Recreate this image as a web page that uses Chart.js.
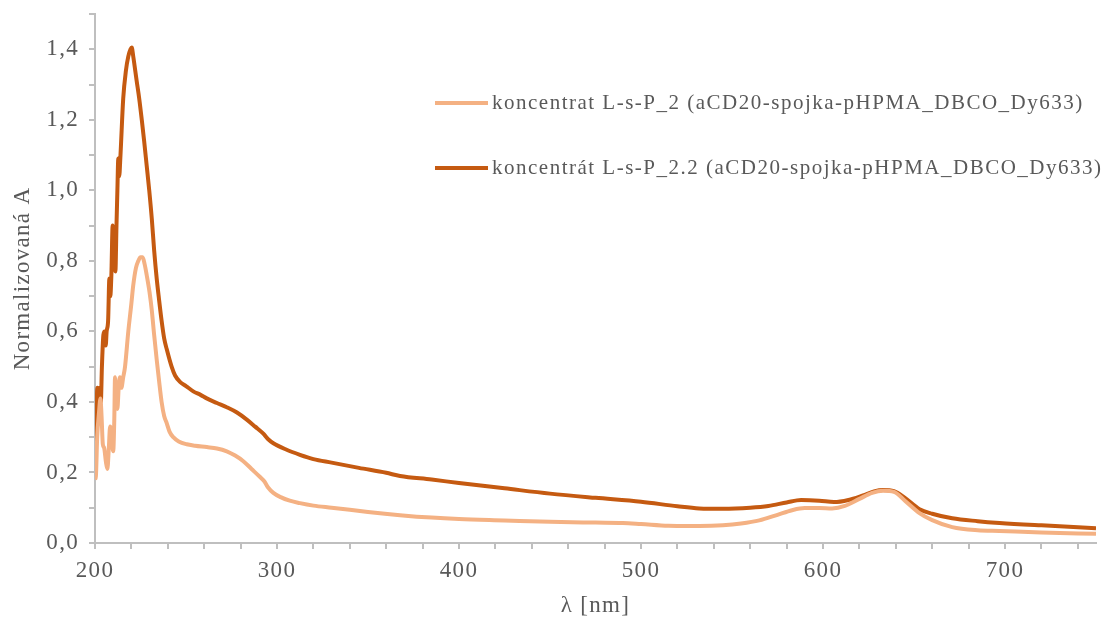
<!DOCTYPE html>
<html>
<head>
<meta charset="utf-8">
<script src="https://cdn.jsdelivr.net/npm/chart.js@4.4.1/dist/chart.umd.min.js"></script>
<style>
  body { margin: 0; background: #fff; }
  #wrap { width: 1104px; height: 620px; }
</style>
</head>
<body>
<div id="wrap"><canvas id="spectra"></canvas></div>
<script>
const seriesNames = [
  'koncentrat L-s-P_2 (aCD20-spojka-pHPMA_DBCO_Dy633)',
  'koncentrát L-s-P_2.2 (aCD20-spojka-pHPMA_DBCO_Dy633)'
];

// series 1 (light)
const lightNm = [200, 200.5, 201.2, 202.2, 203, 203.6, 204.3, 205, 206, 206.8, 207.6, 208.3, 209, 210, 210.6, 211, 211.6, 212.3, 213, 213.7, 214.5, 215.5, 216.5, 218.3, 220, 221, 222.5, 223.8, 225, 226.2, 227.3, 228.4, 230, 231.2, 232.5, 233.9, 235.2, 236.6, 238, 239.4, 241, 243, 246, 250.4, 255, 261.4, 267, 272.4, 277, 281.5, 286, 290.7, 293, 295, 298, 302, 307, 312.6, 320, 330, 340, 350, 367.6, 385, 400, 425, 450, 475, 490, 500, 515, 525, 532, 545, 555, 565, 575, 583, 590, 598, 605, 612, 620, 627, 633, 639, 645, 653, 660, 671, 685, 697, 720, 750];
const lightA = [0.18, 0.19, 0.30, 0.37, 0.41, 0.36, 0.28, 0.27, 0.23, 0.21, 0.27, 0.33, 0.31, 0.26, 0.35, 0.47, 0.40, 0.38, 0.44, 0.47, 0.44, 0.47, 0.50, 0.60, 0.68, 0.73, 0.78, 0.80, 0.81, 0.81, 0.79, 0.76, 0.71, 0.66, 0.59, 0.52, 0.46, 0.40, 0.36, 0.34, 0.315, 0.30, 0.288, 0.28, 0.276, 0.272, 0.268, 0.26, 0.248, 0.232, 0.21, 0.187, 0.175, 0.158, 0.142, 0.13, 0.12, 0.113, 0.106, 0.10, 0.094, 0.088, 0.079, 0.072, 0.068, 0.064, 0.06, 0.058, 0.057, 0.054, 0.049, 0.048, 0.048, 0.05, 0.055, 0.064, 0.08, 0.093, 0.099, 0.099, 0.098, 0.105, 0.125, 0.142, 0.148, 0.145, 0.12, 0.085, 0.065, 0.045, 0.036, 0.034, 0.03, 0.026];

// series 2 (dark)
const darkNm = [200, 200.6, 201.3, 201.9, 202.4, 202.7, 203.2, 203.8, 204.6, 205.3, 205.9, 206.4, 207.2, 207.9, 208.4, 209, 209.7, 210.1, 210.6, 211.2, 211.8, 212.3, 212.8, 213.3, 214, 215.5, 217, 218.3, 219.5, 220.2, 221, 222.9, 224.3, 225.7, 227, 228.4, 229.8, 231.2, 232.5, 233.9, 235.2, 236.6, 238, 239.4, 242.1, 244, 246.7, 250, 254, 258, 261.4, 267, 272.4, 278, 283.4, 288, 292.5, 295, 298, 305, 312.6, 320, 330, 345, 360, 367.6, 385, 400, 425, 450, 475, 500, 520, 532, 545, 560, 570, 580, 588, 598, 606, 614, 622, 628, 633, 639, 645, 653, 660, 671, 685, 697, 720, 750];
const darkA = [0.23, 0.32, 0.44, 0.43, 0.37, 0.44, 0.40, 0.50, 0.59, 0.60, 0.56, 0.60, 0.63, 0.75, 0.70, 0.76, 0.90, 0.78, 0.88, 0.77, 0.90, 1.00, 1.09, 1.04, 1.10, 1.26, 1.34, 1.38, 1.40, 1.405, 1.38, 1.31, 1.26, 1.20, 1.14, 1.07, 1.00, 0.92, 0.83, 0.75, 0.69, 0.63, 0.58, 0.55, 0.50, 0.475, 0.457, 0.445, 0.43, 0.42, 0.41, 0.397, 0.385, 0.37, 0.35, 0.33, 0.31, 0.295, 0.283, 0.265, 0.25, 0.238, 0.228, 0.213, 0.199, 0.19, 0.18, 0.17, 0.155, 0.14, 0.128, 0.117, 0.104, 0.098, 0.097, 0.10, 0.105, 0.115, 0.122, 0.12, 0.116, 0.122, 0.135, 0.146, 0.15, 0.147, 0.128, 0.096, 0.083, 0.07, 0.062, 0.057, 0.05, 0.042];

const xTicks = [200, 220, 240, 260, 280, 300, 320, 340, 360, 380, 400, 420, 440, 460, 480, 500, 520, 540, 560, 580, 600, 620, 640, 660, 680, 700, 720, 740];
const yTicks = [0, 0.1, 0.2, 0.3, 0.4, 0.5, 0.6, 0.7, 0.8, 0.9, 1.0, 1.1, 1.2, 1.3, 1.4, 1.5];

const colLight = '#F4B183';
const colDark = '#C55A11';
const txt = '#595959';
const axisGray = '#BFBFBF';
const fam = "'Liberation Serif', 'Times New Roman', serif";

const pts = (xs, ys) => xs.map((x, i) => ({ x: x, y: ys[i] }));

// Excel-like wide text (canvas resize resets the context, so set it before drawing)
const spacing = {
  id: 'spacing',
  beforeDraw(chart) { chart.ctx.letterSpacing = '1.3px'; }
};

// legend sits inside the plot, drawn by hand
const insideLegend = {
  id: 'insideLegend',
  afterDraw(chart) {
    const c = chart.ctx;
    const rows = [103, 168];
    c.save();
    c.font = '21px ' + fam;
    c.letterSpacing = '1.5px';
    c.fillStyle = txt;
    c.textBaseline = 'middle';
    chart.data.datasets.forEach((ds, i) => {
      c.strokeStyle = ds.borderColor;
      c.lineWidth = 4;
      c.beginPath();
      c.moveTo(435, rows[i]);
      c.lineTo(488, rows[i]);
      c.stroke();
      c.fillText(ds.label, 492, rows[i]);
    });
    c.restore();
  }
};

new Chart(document.getElementById('spectra'), {
  type: 'line',
  data: {
    datasets: [
      { label: seriesNames[0], data: pts(lightNm, lightA), borderColor: colLight, borderWidth: 4, pointRadius: 0, cubicInterpolationMode: 'monotone' },
      { label: seriesNames[1], data: pts(darkNm, darkA), borderColor: colDark, borderWidth: 4, pointRadius: 0, cubicInterpolationMode: 'monotone' }
    ]
  },
  options: {
    responsive: true,
    maintainAspectRatio: false,
    animation: false,
    layout: { padding: { top: 14, right: 8, left: 0, bottom: 0 } },
    plugins: { legend: { display: false }, tooltip: { enabled: false } },
    scales: {
      x: {
        type: 'linear',
        min: 200,
        max: 750,
        afterFit: s => { s.height = 77; s.paddingLeft = 0; s.paddingRight = 0; },
        afterBuildTicks: s => { s.ticks = xTicks.map(v => ({ value: v })); },
        ticks: {
          autoSkip: false,
          maxRotation: 0,
          padding: 8,
          color: txt,
          font: { family: fam, size: 23 },
          callback: v => (v % 100 === 0 ? v : '')
        },
        grid: { drawOnChartArea: false, tickLength: 6, color: axisGray, lineWidth: 2 },
        border: { color: axisGray, width: 2 },
        title: { display: true, text: 'λ [nm]', color: txt, font: { family: fam, size: 23 }, padding: { top: 0, bottom: 0 } }
      },
      y: {
        min: 0,
        max: 1.5,
        afterFit: s => { s.width = 95; s.paddingTop = 0; s.paddingBottom = 0; },
        afterBuildTicks: s => { s.ticks = yTicks.map(v => ({ value: v })); },
        ticks: {
          autoSkip: false,
          padding: 10,
          color: txt,
          font: { family: fam, size: 23 },
          callback: v => {
            const k = Math.round(v * 10);
            return (k % 2 === 0 && k < 15) ? (k / 10).toFixed(1).replace('.', ',') : '';
          }
        },
        grid: { drawOnChartArea: false, tickLength: 6, color: axisGray, lineWidth: 2 },
        border: { color: axisGray, width: 2 },
        title: { display: true, text: 'Normalizovaná A', color: txt, font: { family: fam, size: 23 }, padding: { top: 9, bottom: 0 } }
      }
    }
  },
  plugins: [spacing, insideLegend]
});
</script>
</body>
</html>
